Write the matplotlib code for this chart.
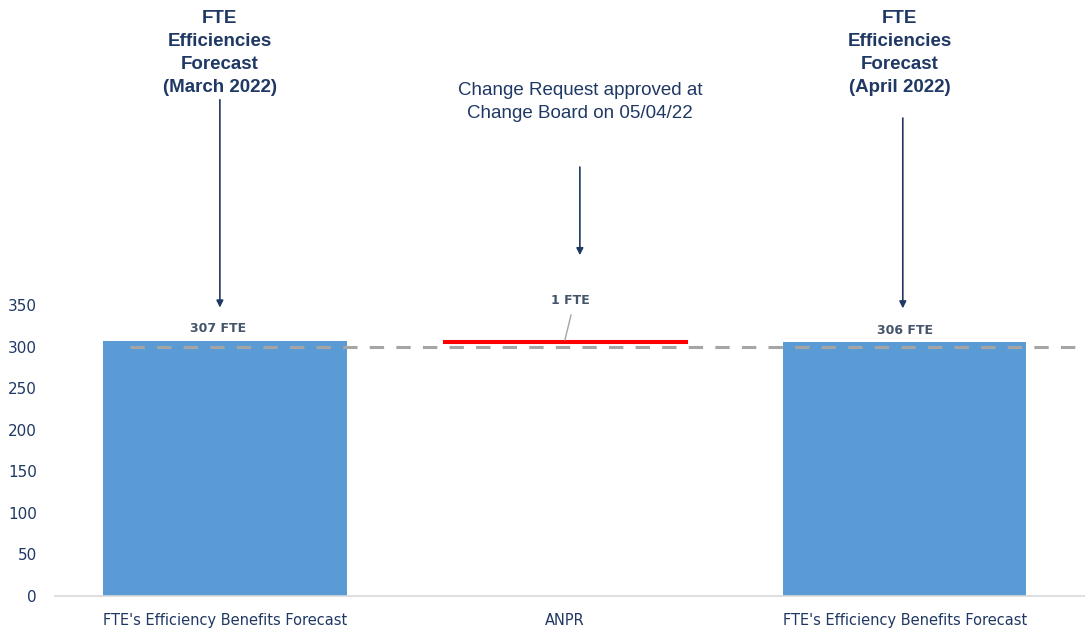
import matplotlib.pyplot as plt

# Waterfall of FTE efficiency benefits: March forecast, change, April forecast
categories = ["FTE's Efficiency Benefits Forecast", "ANPR", "FTE's Efficiency Benefits Forecast"]
values = [307, 1, 306]
bottoms = [0, 306, 0]
value_labels = ["307 FTE", "1 FTE", "306 FTE"]
baseline = 300
yticks = [0, 50, 100, 150, 200, 250, 300, 350]

navy = "#1F3864"
blue = "#5B9BD5"
red = "#FF0000"

plt.rcParams['font.family'] = ['Liberation Sans Narrow', 'DejaVu Sans Condensed',
                               'DejaVu Sans']

fig = plt.figure(figsize=(10.85, 6.33), dpi=100)
ax = fig.add_axes([0.0507, 0.0585, 0.9493, 0.9415])

x = list(range(len(categories)))
ax.bar(x[0], values[0], bottom=bottoms[0], width=0.715, color=blue, zorder=2)
ax.bar(x[2], values[2], bottom=bottoms[2], width=0.715, color=blue, zorder=2)
# the single-FTE change is too thin to see as a bar, so outline it in red
ax.bar(x[1], values[1], bottom=bottoms[1], width=0.71, color=red,
       edgecolor=red, linewidth=2.2, zorder=3)

# 300 FTE target line
ax.plot([-0.28, 2.6], [baseline, baseline], color="#A5A5A5", lw=2.2,
        dashes=(4.7, 4), zorder=2.5)

ax.set_xlim(-0.5, 2.53)
ax.set_ylim(0, 717)
ax.set_yticks(yticks)
ax.set_xticks(x)
ax.set_xticklabels(categories, color=navy, fontsize=10.5)
ax.tick_params(axis='y', labelsize=11, colors=navy, length=0, pad=13)
ax.tick_params(axis='x', length=0, pad=12)
for s in ['top', 'right', 'left']:
    ax.spines[s].set_visible(False)
ax.spines['bottom'].set_color("#D9D9D9")
ax.spines['bottom'].set_linewidth(1.2)

# value labels
lbl = dict(ha='center', va='center', fontsize=9, fontweight='bold', color="#44546A")
ax.text(-0.02, 322, value_labels[0], **lbl)
ax.text(1.015, 356, value_labels[1], **lbl)
ax.text(2.0, 319, value_labels[2], **lbl)
ax.plot([1.018, 1.0], [338, 308], color="#A5A5A5", lw=1, zorder=4)

# callouts
head = dict(arrowstyle='-|>', color=navy, lw=1.2, mutation_scale=10,
            shrinkA=0, shrinkB=0)
ann_font = ['Liberation Sans', 'DejaVu Sans']
ax.text(-0.015, 705, "FTE\nEfficiencies\nForecast\n(March 2022)", ha='center',
        va='top', fontsize=13.5, fontweight='bold', color=navy,
        family=ann_font, linespacing=1.45)
ax.annotate('', xy=(-0.015, 347), xytext=(-0.015, 597), arrowprops=head)

ax.text(1.044, 618, "Change Request approved at\nChange Board on 05/04/22",
        ha='center', va='top', fontsize=13.5, color=navy, family=ann_font,
        linespacing=1.42)
ax.annotate('', xy=(1.044, 410), xytext=(1.044, 516), arrowprops=head)

ax.text(1.985, 705, "FTE\nEfficiencies\nForecast\n(April 2022)", ha='center',
        va='top', fontsize=13.5, fontweight='bold', color=navy,
        family=ann_font, linespacing=1.45)
ax.annotate('', xy=(1.994, 346), xytext=(1.994, 575), arrowprops=head)

fig.savefig("out.png", dpi=100)
